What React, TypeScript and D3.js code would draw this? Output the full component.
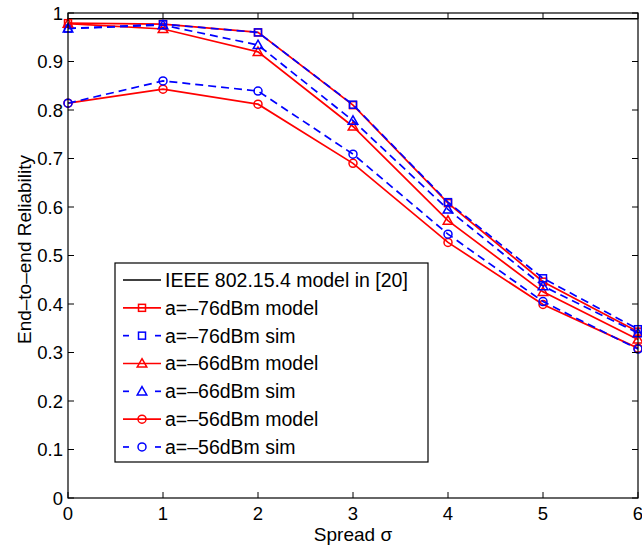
import React from "react";
import * as d3 from "d3";

const spread = [0, 1, 2, 3, 4, 5, 6];
const ieeeValue = 0.988;
const model76 = [0.979, 0.977, 0.96, 0.81, 0.608, 0.446, 0.343];
const sim76 = [0.968, 0.977, 0.96, 0.811, 0.61, 0.453, 0.348];
const model66 = [0.978, 0.967, 0.92, 0.766, 0.572, 0.425, 0.327];
const sim66 = [0.968, 0.975, 0.934, 0.778, 0.595, 0.437, 0.34];
const model56 = [0.814, 0.843, 0.812, 0.69, 0.527, 0.399, 0.309];
const sim56 = [0.814, 0.86, 0.839, 0.709, 0.544, 0.405, 0.307];
const xTicks = [0, 1, 2, 3, 4, 5, 6];
const yTicks = [0, 0.1, 0.2, 0.3, 0.4, 0.5, 0.6, 0.7, 0.8, 0.9, 1];
const legendLabels = [
  "IEEE 802.15.4 model in [20]",
  "a=\u201376dBm model",
  "a=\u201376dBm sim",
  "a=\u201366dBm model",
  "a=\u201366dBm sim",
  "a=\u201356dBm model",
  "a=\u201356dBm sim",
];

const W = 642, H = 549;
const L = 68, R = 638, T = 13, B = 498;
const FONT = "'Liberation Sans', Arial, Helvetica, sans-serif";

type Marker = "none" | "square" | "triangle" | "circle";
interface Series { values: number[] | null; color: string; dashed: boolean; marker: Marker; }

const series: Series[] = [
  { values: null, color: "#000", dashed: false, marker: "none" },
  { values: model76, color: "#ff0000", dashed: false, marker: "square" },
  { values: sim76, color: "#0000ff", dashed: true, marker: "square" },
  { values: model66, color: "#ff0000", dashed: false, marker: "triangle" },
  { values: sim66, color: "#0000ff", dashed: true, marker: "triangle" },
  { values: model56, color: "#ff0000", dashed: false, marker: "circle" },
  { values: sim56, color: "#0000ff", dashed: true, marker: "circle" },
];

function MarkerShape({ kind, x, y, color }: { kind: Marker; x: number; y: number; color: string }) {
  const sw = 1.5;
  if (kind === "square") return <rect x={x - 3.5} y={y - 3.5} width={7} height={7} fill="none" stroke={color} strokeWidth={sw} />;
  if (kind === "circle") return <circle cx={x} cy={y} r={4} fill="none" stroke={color} strokeWidth={sw} />;
  if (kind === "triangle") {
    const s = 4.8;
    return <path d={`M${x},${y - s}L${x + s},${y + s * 0.75}L${x - s},${y + s * 0.75}Z`} fill="none" stroke={color} strokeWidth={sw} />;
  }
  return null;
}

export default function App() {
  const x = d3.scaleLinear().domain([0, 6]).range([L, R]);
  const y = d3.scaleLinear().domain([0, 1]).range([B, T]);
  const line = d3.line<number>().x((_, i) => x(spread[i])).y((d) => y(d));
  const tickLen = 6;

  const legX = 115, legY = 263, legW = 313, legH = 199;
  const rowY = (i: number) => 280 + i * 27.83;

  return (
    <svg width={W} height={H} style={{ position: "absolute", left: 0, top: 0, background: "#fff" }} fontFamily={FONT}>
      <rect x={0} y={0} width={W} height={H} fill="#fff" />
      {series.map((s, si) => {
        if (!s.values) {
          return <line key={si} x1={x(0)} x2={x(6)} y1={y(ieeeValue)} y2={y(ieeeValue)} stroke={s.color} strokeWidth={1.5} />;
        }
        return (
          <g key={si}>
            <path d={line(s.values) || ""} fill="none" stroke={s.color} strokeWidth={1.7}
              strokeDasharray={s.dashed ? "8,5" : undefined} />
            {s.values.map((v, i) => (
              <MarkerShape key={i} kind={s.marker} x={x(spread[i])} y={y(v)} color={s.color} />
            ))}
          </g>
        );
      })}
      <rect x={L} y={T} width={R - L} height={B - T} fill="none" stroke="#000" strokeWidth={1.2} />
      {xTicks.map((t) => (
        <g key={"x" + t}>
          <line x1={x(t)} x2={x(t)} y1={B} y2={B - tickLen} stroke="#000" strokeWidth={1} />
          <line x1={x(t)} x2={x(t)} y1={T} y2={T + tickLen} stroke="#000" strokeWidth={1} />
          <text x={x(t)} y={520} fontSize={18.5} textAnchor="middle" fill="#000">{t}</text>
        </g>
      ))}
      {yTicks.map((t) => (
        <g key={"y" + t}>
          <line x1={L} x2={L + tickLen} y1={y(t)} y2={y(t)} stroke="#000" strokeWidth={1} />
          <line x1={R} x2={R - tickLen} y1={y(t)} y2={y(t)} stroke="#000" strokeWidth={1} />
          <text x={63} y={y(t) + 6.6} fontSize={18.5} textAnchor="end" fill="#000">{String(t)}</text>
        </g>
      ))}
      <text x={(L + R) / 2} y={541} fontSize={19} textAnchor="middle" fill="#000">Spread σ</text>
      <text transform={`translate(31,${(T + B) / 2 - 6}) rotate(-90)`} fontSize={19} textAnchor="middle" fill="#000">
        End–to–end Reliability
      </text>
      <rect x={legX} y={legY} width={legW} height={legH} fill="#fff" stroke="#000" strokeWidth={1.2} />
      {series.map((s, i) => {
        const cy = rowY(i);
        const x1 = 123, x2 = 161, cx = 142;
        return (
          <g key={"leg" + i}>
            {s.dashed ? (
              <>
                <line x1={x1} x2={x1 + 6} y1={cy} y2={cy} stroke={s.color} strokeWidth={1.7} />
                <line x1={x2 - 6} x2={x2} y1={cy} y2={cy} stroke={s.color} strokeWidth={1.7} />
              </>
            ) : (
              <line x1={x1} x2={x2} y1={cy} y2={cy} stroke={s.color} strokeWidth={s.values ? 1.7 : 1.5} />
            )}
            <MarkerShape kind={s.marker} x={cx} y={cy} color={s.color} />
            <text x={165} y={cy + 7} fontSize={19.5} fill="#000">{legendLabels[i]}</text>
          </g>
        );
      })}
    </svg>
  );
}
